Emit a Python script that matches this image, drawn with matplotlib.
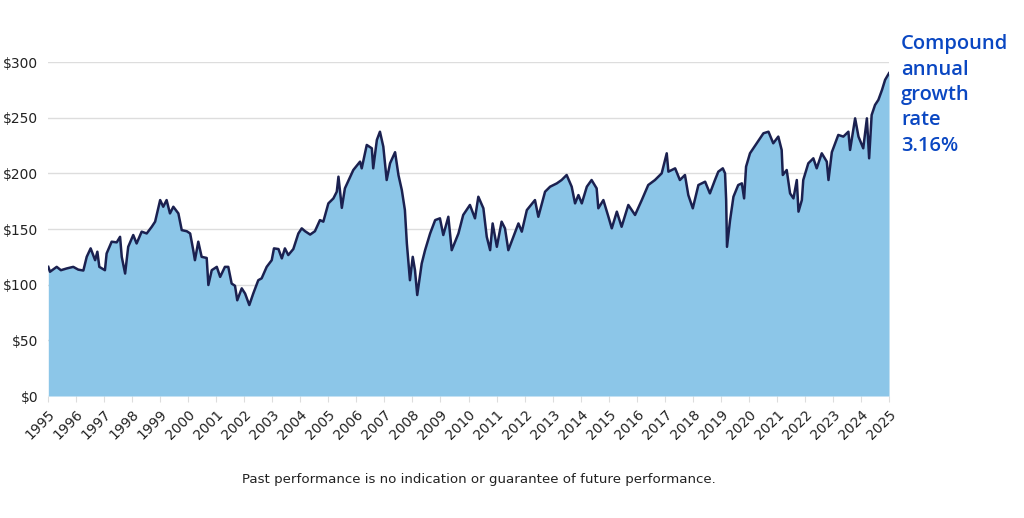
import matplotlib.pyplot as plt
import numpy as np

# values (fractional year, index value in $)
years = [
    1995.01, 1995.07, 1995.31, 1995.46, 1995.67, 1995.90, 1996.08, 1996.26, 1996.38, 1996.52,
    1996.68, 1996.76, 1996.83, 1997.03, 1997.09, 1997.27, 1997.45, 1997.57, 1997.63, 1997.75,
    1997.86, 1998.04, 1998.16, 1998.34, 1998.52, 1998.70, 1998.82, 1999.00, 1999.11, 1999.23,
    1999.35, 1999.47, 1999.65, 1999.77, 1999.95, 2000.07, 2000.18, 2000.24, 2000.36, 2000.48,
    2000.66, 2000.72, 2000.84, 2001.02, 2001.14, 2001.31, 2001.43, 2001.55, 2001.67, 2001.75,
    2001.91, 2002.03, 2002.18, 2002.32, 2002.50, 2002.62, 2002.80, 2002.98, 2003.06, 2003.22,
    2003.34, 2003.45, 2003.57, 2003.75, 2003.93, 2004.05, 2004.17, 2004.35, 2004.52, 2004.70,
    2004.82, 2005.00, 2005.18, 2005.30, 2005.36, 2005.48, 2005.59, 2005.89, 2006.13, 2006.19,
    2006.37, 2006.55, 2006.60, 2006.73, 2006.84, 2006.96, 2007.08, 2007.20, 2007.38, 2007.50,
    2007.62, 2007.73, 2007.80, 2007.85, 2007.91, 2008.01, 2008.09, 2008.17, 2008.33, 2008.45,
    2008.63, 2008.81, 2008.98, 2009.10, 2009.28, 2009.40, 2009.64, 2009.81, 2010.05, 2010.23,
    2010.35, 2010.53, 2010.65, 2010.77, 2010.86, 2011.01, 2011.18, 2011.30, 2011.42, 2011.60,
    2011.78, 2011.90, 2012.08, 2012.37, 2012.49, 2012.73, 2012.91, 2013.15, 2013.32, 2013.50,
    2013.68, 2013.80, 2013.92, 2014.04, 2014.22, 2014.39, 2014.57, 2014.63, 2014.81, 2014.99,
    2015.11, 2015.29, 2015.46, 2015.70, 2015.94, 2016.18, 2016.41, 2016.65, 2016.89, 2017.07,
    2017.13, 2017.37, 2017.54, 2017.72, 2017.84, 2018.00, 2018.20, 2018.44, 2018.61, 2018.79,
    2018.91, 2019.07, 2019.15, 2019.19, 2019.22, 2019.33, 2019.45, 2019.62, 2019.75, 2019.83,
    2019.90, 2020.04, 2020.28, 2020.52, 2020.70, 2020.87, 2021.05, 2021.17, 2021.21, 2021.35,
    2021.47, 2021.59, 2021.71, 2021.77, 2021.89, 2021.94, 2022.12, 2022.30, 2022.42, 2022.60,
    2022.78, 2022.84, 2022.96, 2023.19, 2023.37, 2023.55, 2023.61, 2023.79, 2023.91, 2024.08,
    2024.21, 2024.29, 2024.38, 2024.50, 2024.62, 2024.75, 2024.86, 2025.00,
]
values = [
    116, 111.6, 116, 113, 114.6, 116, 113.5, 112.7, 125, 132.6,
    122, 129.6, 116, 113, 128, 138.6, 138, 143, 125, 110,
    134, 144.6, 137, 147.6, 146, 152, 156.6, 176, 170, 176,
    164, 170, 164, 149, 148, 146, 131, 122, 138.6, 125,
    124, 99.7, 113, 116, 107, 116, 116, 101, 99, 86,
    96.7, 92, 81.7, 92, 104, 105.7, 116, 122, 132.6, 132,
    123.6, 132.6, 126.6, 132, 146, 150.6, 148, 145, 148, 158,
    156.6, 173, 177.5, 183.5, 197, 169, 186.5, 203, 210.5, 204.5,
    225.5, 222.5, 204.5, 230, 237.4, 224, 194, 209, 219, 198.5,
    185, 167, 137, 122, 104, 125, 113, 90.7, 119, 131,
    146, 158, 159.6, 144.6, 161, 131, 146, 162.6, 171.6, 159.6,
    179, 168.6, 143, 131, 155, 134, 156.6, 150.6, 131, 143,
    155, 147.6, 167, 176, 161, 183.5, 188, 191, 194, 198.5,
    188, 173, 180.5, 173, 188, 194, 186.5, 168.6, 176, 161,
    150.6, 165.6, 152, 171.6, 162.6, 176, 189.5, 194, 200, 218,
    201.5, 204.5, 194, 198.5, 180.5, 168.6, 189.5, 192.5, 182, 194,
    201.5, 204.5, 200, 176, 134, 158, 179, 189.5, 191, 177.5,
    206, 218, 227, 236, 237.4, 227, 233, 221, 198.5, 203,
    182, 177.5, 194, 165.6, 176, 194, 209, 213.5, 204.5, 218,
    210.5, 194, 219, 234.5, 233, 237.4, 221, 249.4, 233, 222.5,
    249.4, 213.5, 252.4, 261.4, 266, 275, 284, 290,
]
tick_years = list(range(1995, 2026))
y_ticks = [0, 50, 100, 150, 200, 250, 300]

fig = plt.figure(figsize=(10.24, 5.18), dpi=100)
ax = fig.add_axes([0.0469, 0.2355, 0.8213, 0.6448])

ax.fill_between(years, values, 0, color='#8cc6e8', lw=0)
ax.plot(years, values, color='#1b2150', lw=1.8)

ax.set_xlim(1995, 2025)
ax.set_ylim(0, 300)
ax.set_yticks(y_ticks)
ax.set_yticklabels(['${}'.format(v) for v in y_ticks], fontsize=10, color='#222222')
ax.set_xticks(tick_years)
ax.set_xticklabels([str(y) for y in tick_years], rotation=45, ha='right',
                   rotation_mode='anchor', fontsize=10, color='#222222')
ax.tick_params(axis='y', length=0, pad=7)
ax.tick_params(axis='x', length=4, color='#dddddd', pad=4)
ax.grid(axis='y', color='#dddddd', lw=1)
ax.set_axisbelow(True)
for s in ax.spines.values():
    s.set_visible(False)

fig.text(0.880, 0.934, 'Compound\nannual\ngrowth\nrate\n3.16%', color='#0a47c2',
         fontsize=14.5, fontweight='semibold', family='Open Sans',
         va='top', ha='left', linespacing=1.36)
fig.text(0.468, 0.075, 'Past performance is no indication or guarantee of future performance.',
         ha='center', va='center', fontsize=9.6, color='#222222')

fig.savefig('out.png', dpi=100)
